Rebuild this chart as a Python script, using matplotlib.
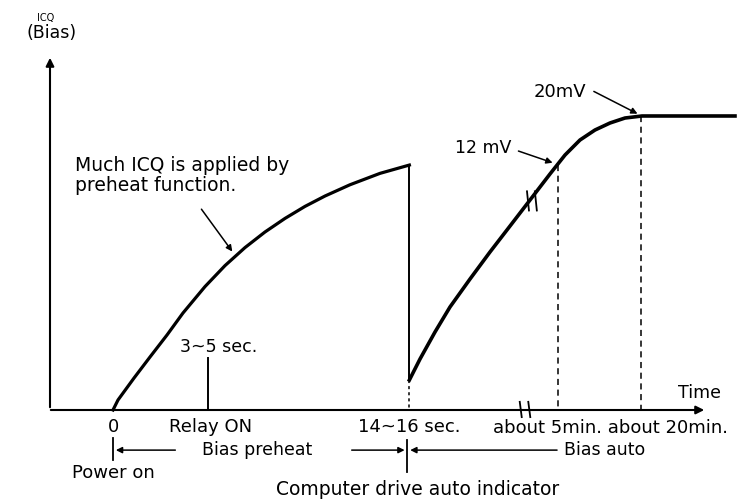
import numpy as np
import matplotlib.pyplot as plt

plt.rcParams["font.family"] = "DejaVu Sans"

# schematic units: time position along the drawn axis (0..100), ICQ level (0..100)
preheat_t = [9.59, 10.35, 12.79, 15.22, 17.81, 20.24, 23.59, 26.64, 29.68,
             32.72, 35.77, 38.81, 41.86, 45.66, 50.23, 54.7]
preheat_icq = [0, 2.82, 9.01, 14.93, 21.13, 27.32, 34.76, 40.68, 45.75, 50.14,
               53.97, 57.35, 60.28, 63.45, 66.66, 69.0]
auto_t = [54.7, 56.32, 58.60, 60.88, 63.93, 66.97, 70.02, 73.06, 76.10, 78.39,
          80.67, 82.95, 85.24, 87.52, 90.11, 104.26]
auto_icq = [8.45, 14.37, 21.97, 29.01, 36.90, 44.51, 51.83, 59.15, 66.48,
            71.83, 76.06, 78.87, 80.85, 82.25, 82.82, 82.82]

t_power_on = 9.6
t_relay = 24.0
t_switch = 54.7
t_break = 72.3
t_5min = 77.3
t_20min = 89.9
icq_12mv = 69.0
icq_20mv = 82.8
relay_mark = 14.6

time_labels = ["0", "Relay ON", "14~16 sec."]
time_label_pos = [t_power_on, 24.4, t_switch]

fig = plt.figure(figsize=(7.41, 4.99), dpi=100)
ax = fig.add_axes([50 / 741, 89 / 499, 657 / 741, 355 / 499])
ax.set_xlim(0, 100)
ax.set_ylim(0, 100)
ax.axis('off')

arrow_kw = dict(arrowstyle='-|>', color='k', lw=1.5, mutation_scale=12)
ax.annotate('', xy=(100, 0), xytext=(-0.3, 0), arrowprops=arrow_kw,
            annotation_clip=False)
ax.annotate('', xy=(0, 100), xytext=(0, 0), arrowprops=arrow_kw,
            annotation_clip=False)

# curves
ax.plot(preheat_t, preheat_icq, color='k', lw=2.3, clip_on=False)
ax.plot(auto_t, auto_icq, color='k', lw=2.6, clip_on=False)
ax.plot([t_switch, t_switch], [preheat_icq[-1], auto_icq[0]], color='k', lw=1.4)
ax.plot([t_switch, t_switch], [auto_icq[0], 0], color='k', lw=1.1,
        dashes=(2, 2))
ax.plot([t_5min, t_5min], [icq_12mv, 0], color='k', lw=1.1, dashes=(4, 3))
ax.plot([t_20min, t_20min], [icq_20mv, 0], color='k', lw=1.1, dashes=(4, 3))
ax.plot([t_relay, t_relay], [0, relay_mark], color='k', lw=1.4)

# break marks
for dx in (-0.8, 0.5):
    ax.plot([t_break + dx, t_break + dx + 0.3], [2.3, -2.0], color='k', lw=1.3,
            clip_on=False)
for dx in (0.0, 1.2):
    ax.plot([72.6 + dx, 72.9 + dx], [61.6, 56.2], color='k', lw=1.3)

# y label
ax.text(-0.6, 110.4, "ICQ", fontsize=7, ha='center', va='center')
ax.text(0.3, 106.2, "(Bias)", fontsize=12.5, ha='center', va='center')
ax.text(98.9, 4.8, "Time", fontsize=12.5, ha='center', va='center')

# annotations
ax.text(3.8, 69.0, "Much ICQ is applied by", fontsize=13.5, va='center')
ax.text(3.8, 63.1, "preheat function.", fontsize=13.5, va='center')
ax.annotate('', xy=(28.0, 44.0), xytext=(22.8, 57.2),
            arrowprops=dict(arrowstyle='-|>', color='k', lw=1.1,
                            mutation_scale=9))
ax.text(19.8, 17.7, "3~5 sec.", fontsize=12.5, va='center')
ax.text(77.6, 89.6, "20mV", fontsize=13, ha='center', va='center')
ax.annotate('', xy=(89.8, 83.1), xytext=(82.4, 90.1),
            arrowprops=dict(arrowstyle='-|>', color='k', lw=1.1,
                            mutation_scale=9))
ax.text(65.9, 73.8, "12 mV", fontsize=12.5, ha='center', va='center')
ax.annotate('', xy=(76.9, 69.4), xytext=(70.9, 73.2),
            arrowprops=dict(arrowstyle='-|>', color='k', lw=1.1,
                            mutation_scale=9))

# time labels below axis
for lab, pos in zip(time_labels, time_label_pos):
    ax.text(pos, -4.8, lab, fontsize=13, ha='center', va='center')
ax.text(67.4, -5.1, "about 5min. about 20min.", fontsize=13, va='center')

# phase ranges
row = -11.3
ax.plot([t_power_on, t_power_on], [-7.9, -14.1], color='k', lw=1.3,
        clip_on=False)
ax.plot([t_switch - 0.3, t_switch - 0.3], [-8.5, -17.5], color='k', lw=1.3,
        clip_on=False)
small = dict(arrowstyle='-|>', color='k', lw=1.1, mutation_scale=9)
ax.annotate('', xy=(t_power_on, row), xytext=(19.5, row), arrowprops=small,
            annotation_clip=False)
ax.annotate('', xy=(t_switch - 0.3, row), xytext=(45.5, row),
            arrowprops=small, annotation_clip=False)
ax.annotate('', xy=(t_switch - 0.3, row), xytext=(77.6, row),
            arrowprops=small, annotation_clip=False)
ax.text(31.5, row, "Bias preheat", fontsize=12.5, ha='center', va='center')
ax.text(78.3, row, "Bias auto", fontsize=12.5, va='center')
ax.text(t_power_on, -17.7, "Power on", fontsize=13, ha='center', va='center')
ax.text(56.0, -22.3, "Computer drive auto indicator", fontsize=13.5,
        ha='center', va='center')

fig.savefig("out.png", dpi=100)
